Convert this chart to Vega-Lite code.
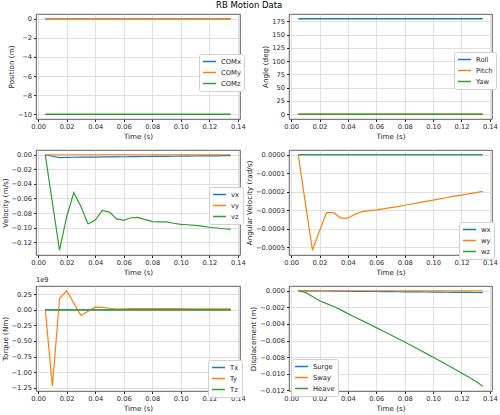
{
  "$schema": "https://vega.github.io/schema/vega-lite/v6.json",
  "padding": {"left": 0, "top": 1, "right": 0, "bottom": 2},
  "title": {"text": "RB Motion Data", "fontSize": 8.5, "fontWeight": "normal", "color": "#000000", "anchor": "middle", "offset": 4},
  "bounds": "flush",
  "columns": 2,
  "spacing": {"row": 31, "column": 49},
  "resolve": {"scale": {"x": "independent", "y": "independent", "color": "independent"}},
  "datasets": {
    "pos": [
      {"t": 0.005, "s": "COMx", "v": 0}, {"t": 0.01, "s": "COMx", "v": 0}, {"t": 0.015, "s": "COMx", "v": 0}, {"t": 0.02, "s": "COMx", "v": 0}, {"t": 0.025, "s": "COMx", "v": 0}, {"t": 0.03, "s": "COMx", "v": 0}, {"t": 0.035, "s": "COMx", "v": 0}, {"t": 0.04, "s": "COMx", "v": 0}, {"t": 0.045, "s": "COMx", "v": 0}, {"t": 0.05, "s": "COMx", "v": 0}, {"t": 0.055, "s": "COMx", "v": 0}, {"t": 0.06, "s": "COMx", "v": 0}, {"t": 0.065, "s": "COMx", "v": 0}, {"t": 0.07, "s": "COMx", "v": 0}, {"t": 0.075, "s": "COMx", "v": 0}, {"t": 0.08, "s": "COMx", "v": 0}, {"t": 0.085, "s": "COMx", "v": 0}, {"t": 0.09, "s": "COMx", "v": 0}, {"t": 0.095, "s": "COMx", "v": 0}, {"t": 0.1, "s": "COMx", "v": 0}, {"t": 0.105, "s": "COMx", "v": 0}, {"t": 0.11, "s": "COMx", "v": 0}, {"t": 0.115, "s": "COMx", "v": 0}, {"t": 0.12, "s": "COMx", "v": 0}, {"t": 0.125, "s": "COMx", "v": 0}, {"t": 0.13, "s": "COMx", "v": 0}, {"t": 0.135, "s": "COMx", "v": 0},
      {"t": 0.005, "s": "COMy", "v": 0}, {"t": 0.01, "s": "COMy", "v": 0}, {"t": 0.015, "s": "COMy", "v": 0}, {"t": 0.02, "s": "COMy", "v": 0}, {"t": 0.025, "s": "COMy", "v": 0}, {"t": 0.03, "s": "COMy", "v": 0}, {"t": 0.035, "s": "COMy", "v": 0}, {"t": 0.04, "s": "COMy", "v": 0}, {"t": 0.045, "s": "COMy", "v": 0}, {"t": 0.05, "s": "COMy", "v": 0}, {"t": 0.055, "s": "COMy", "v": 0}, {"t": 0.06, "s": "COMy", "v": 0}, {"t": 0.065, "s": "COMy", "v": 0}, {"t": 0.07, "s": "COMy", "v": 0}, {"t": 0.075, "s": "COMy", "v": 0}, {"t": 0.08, "s": "COMy", "v": 0}, {"t": 0.085, "s": "COMy", "v": 0}, {"t": 0.09, "s": "COMy", "v": 0}, {"t": 0.095, "s": "COMy", "v": 0}, {"t": 0.1, "s": "COMy", "v": 0}, {"t": 0.105, "s": "COMy", "v": 0}, {"t": 0.11, "s": "COMy", "v": 0}, {"t": 0.115, "s": "COMy", "v": 0}, {"t": 0.12, "s": "COMy", "v": 0}, {"t": 0.125, "s": "COMy", "v": 0}, {"t": 0.13, "s": "COMy", "v": 0}, {"t": 0.135, "s": "COMy", "v": 0},
      {"t": 0.005, "s": "COMz", "v": -10}, {"t": 0.01, "s": "COMz", "v": -10}, {"t": 0.015, "s": "COMz", "v": -10}, {"t": 0.02, "s": "COMz", "v": -10}, {"t": 0.025, "s": "COMz", "v": -10}, {"t": 0.03, "s": "COMz", "v": -10}, {"t": 0.035, "s": "COMz", "v": -10}, {"t": 0.04, "s": "COMz", "v": -10}, {"t": 0.045, "s": "COMz", "v": -10}, {"t": 0.05, "s": "COMz", "v": -10}, {"t": 0.055, "s": "COMz", "v": -10}, {"t": 0.06, "s": "COMz", "v": -10}, {"t": 0.065, "s": "COMz", "v": -10}, {"t": 0.07, "s": "COMz", "v": -10}, {"t": 0.075, "s": "COMz", "v": -10}, {"t": 0.08, "s": "COMz", "v": -10}, {"t": 0.085, "s": "COMz", "v": -10}, {"t": 0.09, "s": "COMz", "v": -10}, {"t": 0.095, "s": "COMz", "v": -10}, {"t": 0.1, "s": "COMz", "v": -10}, {"t": 0.105, "s": "COMz", "v": -10}, {"t": 0.11, "s": "COMz", "v": -10}, {"t": 0.115, "s": "COMz", "v": -10}, {"t": 0.12, "s": "COMz", "v": -10}, {"t": 0.125, "s": "COMz", "v": -10}, {"t": 0.13, "s": "COMz", "v": -10}, {"t": 0.135, "s": "COMz", "v": -10}
    ],
    "ang": [
      {"t": 0.005, "s": "Roll", "v": 180}, {"t": 0.01, "s": "Roll", "v": 180}, {"t": 0.015, "s": "Roll", "v": 180}, {"t": 0.02, "s": "Roll", "v": 180}, {"t": 0.025, "s": "Roll", "v": 180}, {"t": 0.03, "s": "Roll", "v": 180}, {"t": 0.035, "s": "Roll", "v": 180}, {"t": 0.04, "s": "Roll", "v": 180}, {"t": 0.045, "s": "Roll", "v": 180}, {"t": 0.05, "s": "Roll", "v": 180}, {"t": 0.055, "s": "Roll", "v": 180}, {"t": 0.06, "s": "Roll", "v": 180}, {"t": 0.065, "s": "Roll", "v": 180}, {"t": 0.07, "s": "Roll", "v": 180}, {"t": 0.075, "s": "Roll", "v": 180}, {"t": 0.08, "s": "Roll", "v": 180}, {"t": 0.085, "s": "Roll", "v": 180}, {"t": 0.09, "s": "Roll", "v": 180}, {"t": 0.095, "s": "Roll", "v": 180}, {"t": 0.1, "s": "Roll", "v": 180}, {"t": 0.105, "s": "Roll", "v": 180}, {"t": 0.11, "s": "Roll", "v": 180}, {"t": 0.115, "s": "Roll", "v": 180}, {"t": 0.12, "s": "Roll", "v": 180}, {"t": 0.125, "s": "Roll", "v": 180}, {"t": 0.13, "s": "Roll", "v": 180}, {"t": 0.135, "s": "Roll", "v": 180},
      {"t": 0.005, "s": "Pitch", "v": 0}, {"t": 0.01, "s": "Pitch", "v": 0}, {"t": 0.015, "s": "Pitch", "v": 0}, {"t": 0.02, "s": "Pitch", "v": 0}, {"t": 0.025, "s": "Pitch", "v": 0}, {"t": 0.03, "s": "Pitch", "v": 0}, {"t": 0.035, "s": "Pitch", "v": 0}, {"t": 0.04, "s": "Pitch", "v": 0}, {"t": 0.045, "s": "Pitch", "v": 0}, {"t": 0.05, "s": "Pitch", "v": 0}, {"t": 0.055, "s": "Pitch", "v": 0}, {"t": 0.06, "s": "Pitch", "v": 0}, {"t": 0.065, "s": "Pitch", "v": 0}, {"t": 0.07, "s": "Pitch", "v": 0}, {"t": 0.075, "s": "Pitch", "v": 0}, {"t": 0.08, "s": "Pitch", "v": 0}, {"t": 0.085, "s": "Pitch", "v": 0}, {"t": 0.09, "s": "Pitch", "v": 0}, {"t": 0.095, "s": "Pitch", "v": 0}, {"t": 0.1, "s": "Pitch", "v": 0}, {"t": 0.105, "s": "Pitch", "v": 0}, {"t": 0.11, "s": "Pitch", "v": 0}, {"t": 0.115, "s": "Pitch", "v": 0}, {"t": 0.12, "s": "Pitch", "v": 0}, {"t": 0.125, "s": "Pitch", "v": 0}, {"t": 0.13, "s": "Pitch", "v": 0}, {"t": 0.135, "s": "Pitch", "v": 0},
      {"t": 0.005, "s": "Yaw", "v": 0}, {"t": 0.01, "s": "Yaw", "v": 0}, {"t": 0.015, "s": "Yaw", "v": 0}, {"t": 0.02, "s": "Yaw", "v": 0}, {"t": 0.025, "s": "Yaw", "v": 0}, {"t": 0.03, "s": "Yaw", "v": 0}, {"t": 0.035, "s": "Yaw", "v": 0}, {"t": 0.04, "s": "Yaw", "v": 0}, {"t": 0.045, "s": "Yaw", "v": 0}, {"t": 0.05, "s": "Yaw", "v": 0}, {"t": 0.055, "s": "Yaw", "v": 0}, {"t": 0.06, "s": "Yaw", "v": 0}, {"t": 0.065, "s": "Yaw", "v": 0}, {"t": 0.07, "s": "Yaw", "v": 0}, {"t": 0.075, "s": "Yaw", "v": 0}, {"t": 0.08, "s": "Yaw", "v": 0}, {"t": 0.085, "s": "Yaw", "v": 0}, {"t": 0.09, "s": "Yaw", "v": 0}, {"t": 0.095, "s": "Yaw", "v": 0}, {"t": 0.1, "s": "Yaw", "v": 0}, {"t": 0.105, "s": "Yaw", "v": 0}, {"t": 0.11, "s": "Yaw", "v": 0}, {"t": 0.115, "s": "Yaw", "v": 0}, {"t": 0.12, "s": "Yaw", "v": 0}, {"t": 0.125, "s": "Yaw", "v": 0}, {"t": 0.13, "s": "Yaw", "v": 0}, {"t": 0.135, "s": "Yaw", "v": 0}
    ],
    "vel": [
      {"t": 0.005, "s": "vx", "v": 0}, {"t": 0.01, "s": "vx", "v": -0.002}, {"t": 0.015, "s": "vx", "v": -0.004}, {"t": 0.02, "s": "vx", "v": -0.0036}, {"t": 0.025, "s": "vx", "v": -0.0034}, {"t": 0.03, "s": "vx", "v": -0.0033}, {"t": 0.035, "s": "vx", "v": -0.0032}, {"t": 0.04, "s": "vx", "v": -0.0031}, {"t": 0.045, "s": "vx", "v": -0.003}, {"t": 0.05, "s": "vx", "v": -0.0029}, {"t": 0.055, "s": "vx", "v": -0.0028}, {"t": 0.06, "s": "vx", "v": -0.0027}, {"t": 0.065, "s": "vx", "v": -0.0026}, {"t": 0.07, "s": "vx", "v": -0.0025}, {"t": 0.075, "s": "vx", "v": -0.0024}, {"t": 0.08, "s": "vx", "v": -0.0023}, {"t": 0.085, "s": "vx", "v": -0.0022}, {"t": 0.09, "s": "vx", "v": -0.0021}, {"t": 0.095, "s": "vx", "v": -0.002}, {"t": 0.1, "s": "vx", "v": -0.0019}, {"t": 0.105, "s": "vx", "v": -0.0018}, {"t": 0.11, "s": "vx", "v": -0.0017}, {"t": 0.115, "s": "vx", "v": -0.0016}, {"t": 0.12, "s": "vx", "v": -0.0015}, {"t": 0.125, "s": "vx", "v": -0.0014}, {"t": 0.13, "s": "vx", "v": -0.0013}, {"t": 0.135, "s": "vx", "v": -0.0012},
      {"t": 0.005, "s": "vy", "v": 0}, {"t": 0.01, "s": "vy", "v": 0}, {"t": 0.015, "s": "vy", "v": 0}, {"t": 0.02, "s": "vy", "v": 0}, {"t": 0.025, "s": "vy", "v": 0}, {"t": 0.03, "s": "vy", "v": 0}, {"t": 0.035, "s": "vy", "v": 0}, {"t": 0.04, "s": "vy", "v": 0}, {"t": 0.045, "s": "vy", "v": 0}, {"t": 0.05, "s": "vy", "v": 0}, {"t": 0.055, "s": "vy", "v": 0}, {"t": 0.06, "s": "vy", "v": 0}, {"t": 0.065, "s": "vy", "v": 0}, {"t": 0.07, "s": "vy", "v": 0}, {"t": 0.075, "s": "vy", "v": 0}, {"t": 0.08, "s": "vy", "v": 0}, {"t": 0.085, "s": "vy", "v": 0}, {"t": 0.09, "s": "vy", "v": 0}, {"t": 0.095, "s": "vy", "v": 0}, {"t": 0.1, "s": "vy", "v": 0}, {"t": 0.105, "s": "vy", "v": 0}, {"t": 0.11, "s": "vy", "v": 0}, {"t": 0.115, "s": "vy", "v": 0}, {"t": 0.12, "s": "vy", "v": 0}, {"t": 0.125, "s": "vy", "v": 0}, {"t": 0.13, "s": "vy", "v": 0}, {"t": 0.135, "s": "vy", "v": 0},
      {"t": 0.005, "s": "vz", "v": 0}, {"t": 0.01, "s": "vz", "v": -0.066}, {"t": 0.015, "s": "vz", "v": -0.131}, {"t": 0.02, "s": "vz", "v": -0.085}, {"t": 0.025, "s": "vz", "v": -0.052}, {"t": 0.03, "s": "vz", "v": -0.071}, {"t": 0.035, "s": "vz", "v": -0.095}, {"t": 0.04, "s": "vz", "v": -0.0897}, {"t": 0.045, "s": "vz", "v": -0.0763}, {"t": 0.05, "s": "vz", "v": -0.0786}, {"t": 0.055, "s": "vz", "v": -0.088}, {"t": 0.06, "s": "vz", "v": -0.09}, {"t": 0.065, "s": "vz", "v": -0.0864}, {"t": 0.07, "s": "vz", "v": -0.086}, {"t": 0.075, "s": "vz", "v": -0.089}, {"t": 0.08, "s": "vz", "v": -0.0918}, {"t": 0.085, "s": "vz", "v": -0.092}, {"t": 0.09, "s": "vz", "v": -0.092}, {"t": 0.095, "s": "vz", "v": -0.094}, {"t": 0.1, "s": "vz", "v": -0.0955}, {"t": 0.105, "s": "vz", "v": -0.096}, {"t": 0.11, "s": "vz", "v": -0.097}, {"t": 0.115, "s": "vz", "v": -0.098}, {"t": 0.12, "s": "vz", "v": -0.0995}, {"t": 0.125, "s": "vz", "v": -0.1005}, {"t": 0.13, "s": "vz", "v": -0.1015}, {"t": 0.135, "s": "vz", "v": -0.1025}
    ],
    "angv": [
      {"t": 0.005, "s": "wx", "v": 0}, {"t": 0.01, "s": "wx", "v": 0}, {"t": 0.015, "s": "wx", "v": 0}, {"t": 0.02, "s": "wx", "v": 0}, {"t": 0.025, "s": "wx", "v": 0}, {"t": 0.03, "s": "wx", "v": 0}, {"t": 0.035, "s": "wx", "v": 0}, {"t": 0.04, "s": "wx", "v": 0}, {"t": 0.045, "s": "wx", "v": 0}, {"t": 0.05, "s": "wx", "v": 0}, {"t": 0.055, "s": "wx", "v": 0}, {"t": 0.06, "s": "wx", "v": 0}, {"t": 0.065, "s": "wx", "v": 0}, {"t": 0.07, "s": "wx", "v": 0}, {"t": 0.075, "s": "wx", "v": 0}, {"t": 0.08, "s": "wx", "v": 0}, {"t": 0.085, "s": "wx", "v": 0}, {"t": 0.09, "s": "wx", "v": 0}, {"t": 0.095, "s": "wx", "v": 0}, {"t": 0.1, "s": "wx", "v": 0}, {"t": 0.105, "s": "wx", "v": 0}, {"t": 0.11, "s": "wx", "v": 0}, {"t": 0.115, "s": "wx", "v": 0}, {"t": 0.12, "s": "wx", "v": 0}, {"t": 0.125, "s": "wx", "v": 0}, {"t": 0.13, "s": "wx", "v": 0}, {"t": 0.135, "s": "wx", "v": 0},
      {"t": 0.005, "s": "wy", "v": 0}, {"t": 0.01, "s": "wy", "v": -0.00026}, {"t": 0.015, "s": "wy", "v": -0.000516}, {"t": 0.02, "s": "wy", "v": -0.00041}, {"t": 0.025, "s": "wy", "v": -0.000313}, {"t": 0.03, "s": "wy", "v": -0.000313}, {"t": 0.035, "s": "wy", "v": -0.000342}, {"t": 0.04, "s": "wy", "v": -0.000342}, {"t": 0.045, "s": "wy", "v": -0.000322}, {"t": 0.05, "s": "wy", "v": -0.000307}, {"t": 0.055, "s": "wy", "v": -0.000302}, {"t": 0.06, "s": "wy", "v": -0.000298}, {"t": 0.065, "s": "wy", "v": -0.000292}, {"t": 0.07, "s": "wy", "v": -0.000286}, {"t": 0.075, "s": "wy", "v": -0.00028}, {"t": 0.08, "s": "wy", "v": -0.000273}, {"t": 0.085, "s": "wy", "v": -0.000266}, {"t": 0.09, "s": "wy", "v": -0.000259}, {"t": 0.095, "s": "wy", "v": -0.000252}, {"t": 0.1, "s": "wy", "v": -0.000245}, {"t": 0.105, "s": "wy", "v": -0.000238}, {"t": 0.11, "s": "wy", "v": -0.000231}, {"t": 0.115, "s": "wy", "v": -0.000224}, {"t": 0.12, "s": "wy", "v": -0.000218}, {"t": 0.125, "s": "wy", "v": -0.000211}, {"t": 0.13, "s": "wy", "v": -0.000205}, {"t": 0.135, "s": "wy", "v": -0.000198},
      {"t": 0.005, "s": "wz", "v": 0}, {"t": 0.01, "s": "wz", "v": 0}, {"t": 0.015, "s": "wz", "v": 0}, {"t": 0.02, "s": "wz", "v": 0}, {"t": 0.025, "s": "wz", "v": 0}, {"t": 0.03, "s": "wz", "v": 0}, {"t": 0.035, "s": "wz", "v": 0}, {"t": 0.04, "s": "wz", "v": 0}, {"t": 0.045, "s": "wz", "v": 0}, {"t": 0.05, "s": "wz", "v": 0}, {"t": 0.055, "s": "wz", "v": 0}, {"t": 0.06, "s": "wz", "v": 0}, {"t": 0.065, "s": "wz", "v": 0}, {"t": 0.07, "s": "wz", "v": 0}, {"t": 0.075, "s": "wz", "v": 0}, {"t": 0.08, "s": "wz", "v": 0}, {"t": 0.085, "s": "wz", "v": 0}, {"t": 0.09, "s": "wz", "v": 0}, {"t": 0.095, "s": "wz", "v": 0}, {"t": 0.1, "s": "wz", "v": 0}, {"t": 0.105, "s": "wz", "v": 0}, {"t": 0.11, "s": "wz", "v": 0}, {"t": 0.115, "s": "wz", "v": 0}, {"t": 0.12, "s": "wz", "v": 0}, {"t": 0.125, "s": "wz", "v": 0}, {"t": 0.13, "s": "wz", "v": 0}, {"t": 0.135, "s": "wz", "v": 0}
    ],
    "tq": [
      {"t": 0.005, "s": "Tx", "v": 0}, {"t": 0.01, "s": "Tx", "v": 0}, {"t": 0.015, "s": "Tx", "v": 0}, {"t": 0.02, "s": "Tx", "v": 0}, {"t": 0.025, "s": "Tx", "v": 0}, {"t": 0.03, "s": "Tx", "v": 0}, {"t": 0.035, "s": "Tx", "v": 0}, {"t": 0.04, "s": "Tx", "v": 0}, {"t": 0.045, "s": "Tx", "v": 0}, {"t": 0.05, "s": "Tx", "v": 0}, {"t": 0.055, "s": "Tx", "v": 0}, {"t": 0.06, "s": "Tx", "v": 0}, {"t": 0.065, "s": "Tx", "v": 0}, {"t": 0.07, "s": "Tx", "v": 0}, {"t": 0.075, "s": "Tx", "v": 0}, {"t": 0.08, "s": "Tx", "v": 0}, {"t": 0.085, "s": "Tx", "v": 0}, {"t": 0.09, "s": "Tx", "v": 0}, {"t": 0.095, "s": "Tx", "v": 0}, {"t": 0.1, "s": "Tx", "v": 0}, {"t": 0.105, "s": "Tx", "v": 0}, {"t": 0.11, "s": "Tx", "v": 0}, {"t": 0.115, "s": "Tx", "v": 0}, {"t": 0.12, "s": "Tx", "v": 0}, {"t": 0.125, "s": "Tx", "v": 0}, {"t": 0.13, "s": "Tx", "v": 0}, {"t": 0.135, "s": "Tx", "v": 0},
      {"t": 0.005, "s": "Ty", "v": 0}, {"t": 0.01, "s": "Ty", "v": -1.225}, {"t": 0.015, "s": "Ty", "v": 0.18}, {"t": 0.02, "s": "Ty", "v": 0.305}, {"t": 0.025, "s": "Ty", "v": 0.107}, {"t": 0.03, "s": "Ty", "v": -0.091}, {"t": 0.035, "s": "Ty", "v": -0.024}, {"t": 0.04, "s": "Ty", "v": 0.043}, {"t": 0.045, "s": "Ty", "v": 0.04}, {"t": 0.05, "s": "Ty", "v": 0.025}, {"t": 0.055, "s": "Ty", "v": 0.012}, {"t": 0.06, "s": "Ty", "v": 0.015}, {"t": 0.065, "s": "Ty", "v": 0.02}, {"t": 0.07, "s": "Ty", "v": 0.02}, {"t": 0.075, "s": "Ty", "v": 0.02}, {"t": 0.08, "s": "Ty", "v": 0.02}, {"t": 0.085, "s": "Ty", "v": 0.019}, {"t": 0.09, "s": "Ty", "v": 0.019}, {"t": 0.095, "s": "Ty", "v": 0.018}, {"t": 0.1, "s": "Ty", "v": 0.018}, {"t": 0.105, "s": "Ty", "v": 0.017}, {"t": 0.11, "s": "Ty", "v": 0.017}, {"t": 0.115, "s": "Ty", "v": 0.016}, {"t": 0.12, "s": "Ty", "v": 0.016}, {"t": 0.125, "s": "Ty", "v": 0.015}, {"t": 0.13, "s": "Ty", "v": 0.015}, {"t": 0.135, "s": "Ty", "v": 0.015},
      {"t": 0.005, "s": "Tz", "v": 0}, {"t": 0.01, "s": "Tz", "v": 0}, {"t": 0.015, "s": "Tz", "v": 0}, {"t": 0.02, "s": "Tz", "v": 0}, {"t": 0.025, "s": "Tz", "v": 0}, {"t": 0.03, "s": "Tz", "v": 0}, {"t": 0.035, "s": "Tz", "v": 0}, {"t": 0.04, "s": "Tz", "v": 0}, {"t": 0.045, "s": "Tz", "v": 0}, {"t": 0.05, "s": "Tz", "v": 0}, {"t": 0.055, "s": "Tz", "v": 0}, {"t": 0.06, "s": "Tz", "v": 0}, {"t": 0.065, "s": "Tz", "v": 0}, {"t": 0.07, "s": "Tz", "v": 0}, {"t": 0.075, "s": "Tz", "v": 0}, {"t": 0.08, "s": "Tz", "v": 0}, {"t": 0.085, "s": "Tz", "v": 0}, {"t": 0.09, "s": "Tz", "v": 0}, {"t": 0.095, "s": "Tz", "v": 0}, {"t": 0.1, "s": "Tz", "v": 0}, {"t": 0.105, "s": "Tz", "v": 0}, {"t": 0.11, "s": "Tz", "v": 0}, {"t": 0.115, "s": "Tz", "v": 0}, {"t": 0.12, "s": "Tz", "v": 0}, {"t": 0.125, "s": "Tz", "v": 0}, {"t": 0.13, "s": "Tz", "v": 0}, {"t": 0.135, "s": "Tz", "v": 0}
    ],
    "disp": [
      {"t": 0.005, "s": "Surge", "v": 0}, {"t": 0.01, "s": "Surge", "v": -0.00001}, {"t": 0.015, "s": "Surge", "v": -0.00002}, {"t": 0.02, "s": "Surge", "v": -0.00003}, {"t": 0.025, "s": "Surge", "v": -0.00003}, {"t": 0.03, "s": "Surge", "v": -0.00004}, {"t": 0.035, "s": "Surge", "v": -0.00005}, {"t": 0.04, "s": "Surge", "v": -0.00006}, {"t": 0.045, "s": "Surge", "v": -0.00007}, {"t": 0.05, "s": "Surge", "v": -0.00008}, {"t": 0.055, "s": "Surge", "v": -0.00009}, {"t": 0.06, "s": "Surge", "v": -0.00009}, {"t": 0.065, "s": "Surge", "v": -0.0001}, {"t": 0.07, "s": "Surge", "v": -0.00011}, {"t": 0.075, "s": "Surge", "v": -0.00012}, {"t": 0.08, "s": "Surge", "v": -0.00013}, {"t": 0.085, "s": "Surge", "v": -0.00014}, {"t": 0.09, "s": "Surge", "v": -0.00014}, {"t": 0.095, "s": "Surge", "v": -0.00015}, {"t": 0.1, "s": "Surge", "v": -0.00016}, {"t": 0.105, "s": "Surge", "v": -0.00017}, {"t": 0.11, "s": "Surge", "v": -0.00018}, {"t": 0.115, "s": "Surge", "v": -0.00019}, {"t": 0.12, "s": "Surge", "v": -0.0002}, {"t": 0.125, "s": "Surge", "v": -0.0002}, {"t": 0.13, "s": "Surge", "v": -0.00021}, {"t": 0.135, "s": "Surge", "v": -0.00022},
      {"t": 0.005, "s": "Sway", "v": 0}, {"t": 0.01, "s": "Sway", "v": 0}, {"t": 0.015, "s": "Sway", "v": 0}, {"t": 0.02, "s": "Sway", "v": 0}, {"t": 0.025, "s": "Sway", "v": 0}, {"t": 0.03, "s": "Sway", "v": 0}, {"t": 0.035, "s": "Sway", "v": 0}, {"t": 0.04, "s": "Sway", "v": 0}, {"t": 0.045, "s": "Sway", "v": 0}, {"t": 0.05, "s": "Sway", "v": 0}, {"t": 0.055, "s": "Sway", "v": 0}, {"t": 0.06, "s": "Sway", "v": 0}, {"t": 0.065, "s": "Sway", "v": 0}, {"t": 0.07, "s": "Sway", "v": 0}, {"t": 0.075, "s": "Sway", "v": 0}, {"t": 0.08, "s": "Sway", "v": 0}, {"t": 0.085, "s": "Sway", "v": 0}, {"t": 0.09, "s": "Sway", "v": 0}, {"t": 0.095, "s": "Sway", "v": 0}, {"t": 0.1, "s": "Sway", "v": 0}, {"t": 0.105, "s": "Sway", "v": 0}, {"t": 0.11, "s": "Sway", "v": 0}, {"t": 0.115, "s": "Sway", "v": 0}, {"t": 0.12, "s": "Sway", "v": 0}, {"t": 0.125, "s": "Sway", "v": 0}, {"t": 0.13, "s": "Sway", "v": 0}, {"t": 0.135, "s": "Sway", "v": 0},
      {"t": 0.005, "s": "Heave", "v": 0}, {"t": 0.01, "s": "Heave", "v": -0.0002}, {"t": 0.015, "s": "Heave", "v": -0.0007}, {"t": 0.02, "s": "Heave", "v": -0.0012}, {"t": 0.025, "s": "Heave", "v": -0.00155}, {"t": 0.03, "s": "Heave", "v": -0.0019}, {"t": 0.035, "s": "Heave", "v": -0.0023}, {"t": 0.04, "s": "Heave", "v": -0.00275}, {"t": 0.045, "s": "Heave", "v": -0.0032}, {"t": 0.05, "s": "Heave", "v": -0.0036}, {"t": 0.055, "s": "Heave", "v": -0.004}, {"t": 0.06, "s": "Heave", "v": -0.00444}, {"t": 0.065, "s": "Heave", "v": -0.00487}, {"t": 0.07, "s": "Heave", "v": -0.0053}, {"t": 0.075, "s": "Heave", "v": -0.00574}, {"t": 0.08, "s": "Heave", "v": -0.00618}, {"t": 0.085, "s": "Heave", "v": -0.00663}, {"t": 0.09, "s": "Heave", "v": -0.00708}, {"t": 0.095, "s": "Heave", "v": -0.00754}, {"t": 0.1, "s": "Heave", "v": -0.008}, {"t": 0.105, "s": "Heave", "v": -0.00847}, {"t": 0.11, "s": "Heave", "v": -0.00894}, {"t": 0.115, "s": "Heave", "v": -0.00942}, {"t": 0.12, "s": "Heave", "v": -0.0099}, {"t": 0.125, "s": "Heave", "v": -0.0104}, {"t": 0.13, "s": "Heave", "v": -0.0109}, {"t": 0.135, "s": "Heave", "v": -0.0115}
    ]
  },
  "concat": [
    {
      "width": 204, "height": 105,
      "data": {"name": "pos"},
      "mark": {"type": "line", "strokeWidth": 1.4},
      "encoding": {
        "x": {"field": "t", "type": "quantitative", "scale": {"domain": [-0.0015, 0.1415], "nice": false, "zero": false}, "axis": {"title": "Time (s)", "values": [0, 0.02, 0.04, 0.06, 0.08, 0.1, 0.12, 0.14], "format": ".2f"}},
        "y": {"field": "v", "type": "quantitative", "scale": {"domain": [-10.5, 0.5], "nice": false, "zero": false}, "axis": {"title": "Position (m)", "values": [0, -2, -4, -6, -8, -10], "format": "d"}},
        "color": {"field": "s", "type": "nominal", "scale": {"domain": ["COMx", "COMy", "COMz"], "range": ["#1f77b4", "#ff7f0e", "#2ca02c"]}, "legend": {"orient": "none", "legendX": 163, "legendY": 40, "title": null}}
      }
    },
    {
      "width": 203, "height": 105,
      "data": {"name": "ang"},
      "mark": {"type": "line", "strokeWidth": 1.4},
      "encoding": {
        "x": {"field": "t", "type": "quantitative", "scale": {"domain": [-0.0015, 0.1415], "nice": false, "zero": false}, "axis": {"title": "Time (s)", "values": [0, 0.02, 0.04, 0.06, 0.08, 0.1, 0.12, 0.14], "format": ".2f"}},
        "y": {"field": "v", "type": "quantitative", "scale": {"domain": [-9, 189], "nice": false, "zero": false}, "axis": {"title": "Angle (deg)", "values": [0, 25, 50, 75, 100, 125, 150, 175], "format": "d"}},
        "color": {"field": "s", "type": "nominal", "scale": {"domain": ["Roll", "Pitch", "Yaw"], "range": ["#1f77b4", "#ff7f0e", "#2ca02c"]}, "legend": {"orient": "none", "legendX": 165, "legendY": 38, "title": null}}
      }
    },
    {
      "width": 204, "height": 105,
      "data": {"name": "vel"},
      "mark": {"type": "line", "strokeWidth": 1.2},
      "encoding": {
        "x": {"field": "t", "type": "quantitative", "scale": {"domain": [-0.0015, 0.1415], "nice": false, "zero": false}, "axis": {"title": "Time (s)", "values": [0, 0.02, 0.04, 0.06, 0.08, 0.1, 0.12, 0.14], "format": ".2f"}},
        "y": {"field": "v", "type": "quantitative", "scale": {"domain": [-0.13755, 0.00655], "nice": false, "zero": false}, "axis": {"title": "Velocity (m/s)", "values": [0, -0.02, -0.04, -0.06, -0.08, -0.1, -0.12], "format": ".2f"}},
        "color": {"field": "s", "type": "nominal", "scale": {"domain": ["vx", "vy", "vz"], "range": ["#1f77b4", "#ff7f0e", "#2ca02c"]}, "legend": {"orient": "none", "legendX": 173, "legendY": 37, "title": null}}
      }
    },
    {
      "width": 203, "height": 105,
      "data": {"name": "angv"},
      "mark": {"type": "line", "strokeWidth": 1.2},
      "encoding": {
        "x": {"field": "t", "type": "quantitative", "scale": {"domain": [-0.0015, 0.1415], "nice": false, "zero": false}, "axis": {"title": "Time (s)", "values": [0, 0.02, 0.04, 0.06, 0.08, 0.1, 0.12, 0.14], "format": ".2f"}},
        "y": {"field": "v", "type": "quantitative", "scale": {"domain": [-0.0005418, 0.0000258], "nice": false, "zero": false}, "axis": {"title": "Angular Velocity (rad/s)", "values": [0, -0.0001, -0.0002, -0.0003, -0.0004, -0.0005], "format": ".4f"}},
        "color": {"field": "s", "type": "nominal", "scale": {"domain": ["wx", "wy", "wz"], "range": ["#1f77b4", "#ff7f0e", "#2ca02c"]}, "legend": {"orient": "none", "legendX": 170, "legendY": 72, "title": null}}
      }
    },
    {
      "width": 204, "height": 105,
      "title": {"text": "1e9", "anchor": "start", "frame": "group", "fontSize": 6.7, "fontWeight": "normal", "color": "#262626", "offset": 2},
      "data": {"name": "tq"},
      "mark": {"type": "line", "strokeWidth": 1.2},
      "encoding": {
        "x": {"field": "t", "type": "quantitative", "scale": {"domain": [-0.0015, 0.1415], "nice": false, "zero": false}, "axis": {"title": "Time (s)", "values": [0, 0.02, 0.04, 0.06, 0.08, 0.1, 0.12, 0.14], "format": ".2f"}},
        "y": {"field": "v", "type": "quantitative", "scale": {"domain": [-1.3015, 0.3815], "nice": false, "zero": false}, "axis": {"title": "Torque (Nm)", "values": [0.25, 0, -0.25, -0.5, -0.75, -1, -1.25], "format": ".2f"}},
        "color": {"field": "s", "type": "nominal", "scale": {"domain": ["Tx", "Ty", "Tz"], "range": ["#1f77b4", "#ff7f0e", "#2ca02c"]}, "legend": {"orient": "none", "legendX": 172, "legendY": 74, "title": null}}
      }
    },
    {
      "width": 203, "height": 105,
      "data": {"name": "disp"},
      "mark": {"type": "line", "strokeWidth": 1.2},
      "encoding": {
        "x": {"field": "t", "type": "quantitative", "scale": {"domain": [-0.0015, 0.1415], "nice": false, "zero": false}, "axis": {"title": "Time (s)", "values": [0, 0.02, 0.04, 0.06, 0.08, 0.1, 0.12, 0.14], "format": ".2f"}},
        "y": {"field": "v", "type": "quantitative", "scale": {"domain": [-0.012075, 0.000575], "nice": false, "zero": false}, "axis": {"title": "Displacement (m)", "values": [0, -0.002, -0.004, -0.006, -0.008, -0.01, -0.012], "format": ".3f"}},
        "color": {"field": "s", "type": "nominal", "scale": {"domain": ["Surge", "Sway", "Heave"], "range": ["#1f77b4", "#ff7f0e", "#2ca02c"]}, "legend": {"orient": "none", "legendX": 2, "legendY": 73, "title": null}}
      }
    }
  ],
  "config": {
    "font": "DejaVu Sans",
    "view": {"stroke": "#333333", "strokeWidth": 0.8},
    "axis": {"labelFontSize": 6.7, "titleFontSize": 7.2, "titleFontWeight": "normal", "labelColor": "#262626", "titleColor": "#262626", "tickColor": "#262626", "tickSize": 2.5, "domain": false, "grid": true, "gridColor": "#d9d9d9", "gridWidth": 0.8, "labelPadding": 2, "titlePadding": 2, "labelFlush": false, "labelOverlap": false},
    "legend": {"labelFontSize": 6.8, "labelColor": "#262626", "symbolType": "M-1,0H2.7", "symbolSize": 49, "symbolStrokeWidth": 1.5, "strokeColor": "#d0d0d0", "fillColor": "#ffffff", "padding": 3, "cornerRadius": 2, "rowPadding": 2, "labelOffset": 10}
  }
}
